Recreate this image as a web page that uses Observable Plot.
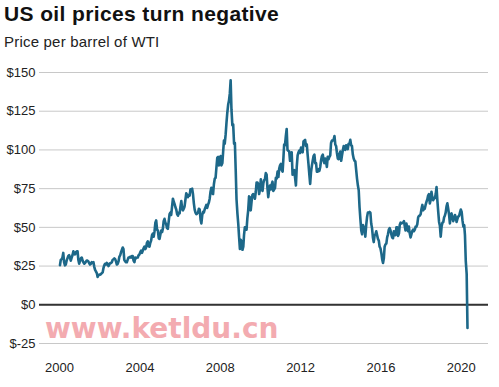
<!DOCTYPE html>
<html>
<head>
<meta charset="utf-8">
<script src="https://cdn.jsdelivr.net/npm/d3@7"></script>
<script src="https://cdn.jsdelivr.net/npm/@observablehq/plot@0.6"></script>
<style>
  html, body { margin: 0; padding: 0; background: #fff; }
  #wrap { position: relative; width: 499px; height: 387px; overflow: hidden; font-family: "Liberation Sans", Arial, sans-serif; }
  #title { position: absolute; left: 4px; top: 2px; font-size: 21px; letter-spacing: 0.38px; font-weight: bold; color: #111; white-space: nowrap; }
  #subtitle { position: absolute; left: 4px; top: 33px; font-size: 15px; letter-spacing: 0.2px; color: #222; white-space: nowrap; }
  #chart { position: absolute; left: 0; top: 0; }
  #wm { position: absolute; left: 45px; top: 312px; font-size: 28px; font-weight: bold; color: #f2a2a8; opacity: 0.9; white-space: nowrap; font-family: "DejaVu Sans", sans-serif; }
</style>
</head>
<body>
<div id="wrap">
  <div id="chart"></div>
  <div id="title">US oil prices turn negative</div>
  <div id="subtitle">Price per barrel of WTI</div>
  <div id="wm">www.ketldu.cn</div>
</div>
<script>
// WTI price per barrel, two readings per month (first half, second half)
const startYear = 2000;
const prices = [
  // 2000
  25.5, 29.0, 29.5, 30.5, 33.5, 27.5, 25.5, 26.0, 28.5, 30.0, 31.5, 32.0,
  30.5, 28.5, 30.5, 32.0, 34.5, 33.0, 32.5, 34.0, 34.5, 34.5, 29.0, 26.5,
  // 2001
  28.5, 30.0, 30.5, 28.5, 27.5, 26.5, 27.0, 27.8, 28.5, 28.5, 28.0, 26.8,
  26.0, 26.5, 27.5, 27.0, 27.5, 24.5, 22.5, 21.5, 20.5, 18.0, 19.0, 19.5,
  // 2002
  19.5, 19.8, 20.5, 21.0, 23.5, 25.5, 26.5, 26.0, 27.0, 26.5, 25.0, 26.0,
  26.8, 27.0, 27.5, 29.0, 29.5, 30.0, 29.5, 28.0, 26.0, 26.5, 28.0, 31.0,
  // 2003
  32.0, 34.0, 35.5, 37.0, 36.0, 29.0, 28.0, 27.5, 27.5, 29.0, 30.5, 30.5,
  31.0, 30.5, 31.5, 31.5, 28.5, 27.5, 30.5, 30.0, 30.5, 30.5, 32.0, 32.5,
  // 2004
  34.0, 35.0, 33.5, 35.0, 36.5, 37.5, 36.0, 37.0, 40.0, 41.0, 38.0, 37.5,
  40.0, 41.5, 45.0, 46.0, 44.0, 47.5, 53.0, 54.5, 48.5, 48.0, 43.0, 42.5,
  // 2005
  45.5, 48.0, 47.0, 49.5, 54.0, 55.5, 53.0, 52.0, 49.5, 49.0, 54.0, 58.5,
  59.5, 58.0, 63.5, 68.5, 66.5, 65.0, 63.0, 61.5, 58.5, 57.5, 59.5, 59.0,
  // 2006
  63.5, 67.0, 62.0, 61.0, 62.0, 63.5, 68.0, 72.0, 71.0, 69.5, 71.0, 70.5,
  74.5, 74.5, 75.0, 71.5, 65.5, 61.5, 59.5, 58.5, 59.0, 59.5, 62.0, 61.5,
  // 2007
  55.0, 52.5, 58.0, 60.0, 59.5, 61.5, 63.0, 64.5, 62.5, 64.5, 66.0, 68.5,
  73.0, 75.5, 72.0, 71.5, 78.0, 81.5, 82.0, 88.5, 95.0, 95.5, 90.0, 93.5,
  // 2008
  96.0, 90.0, 91.5, 99.0, 106.0, 104.0, 110.0, 117.5, 124.0, 129.0, 132.0, 136.5,
  145.0, 126.0, 116.0, 116.5, 104.0, 104.5, 87.0, 68.0, 59.0, 52.5, 44.0, 36.0,
  // 2009
  42.0, 41.0, 35.5, 37.5, 45.0, 50.0, 50.0, 48.5, 56.0, 61.0, 70.0, 69.5,
  61.0, 66.5, 71.0, 71.5, 70.0, 68.5, 73.0, 79.0, 79.0, 77.5, 71.5, 74.5,
  // 2010
  81.0, 76.0, 73.5, 78.5, 80.5, 81.0, 85.0, 84.0, 75.5, 69.5, 74.5, 77.0,
  74.5, 77.5, 79.5, 73.5, 74.5, 75.5, 82.0, 81.5, 86.0, 82.5, 88.0, 90.0,
  // 2011
  91.0, 87.0, 86.0, 95.0, 103.5, 103.0, 109.0, 113.5, 100.0, 99.5, 99.0, 93.0,
  96.5, 98.5, 84.0, 86.5, 87.0, 82.0, 77.0, 89.0, 96.5, 98.5, 99.5, 98.0,
  // 2012
  101.5, 99.0, 98.5, 105.5, 106.0, 106.5, 102.5, 103.5, 97.0, 91.0, 84.0, 78.0,
  85.5, 89.5, 93.0, 96.0, 97.0, 91.5, 91.5, 86.0, 86.0, 87.5, 86.5, 89.0,
  // 2013
  93.5, 96.0, 97.0, 93.0, 91.5, 94.5, 92.5, 89.0, 95.5, 94.0, 95.5, 96.5,
  104.5, 106.0, 106.0, 106.5, 109.0, 103.5, 102.5, 98.0, 94.5, 94.0, 97.5, 99.0,
  // 2014
  93.0, 96.5, 100.0, 102.5, 101.0, 100.0, 103.0, 101.5, 100.5, 104.0, 104.0, 106.5,
  103.0, 102.5, 97.0, 94.5, 93.0, 92.5, 87.0, 81.5, 77.0, 74.0, 63.0, 55.5,
  // 2015
  48.0, 45.5, 51.5, 50.0, 49.0, 44.0, 51.5, 56.5, 59.5, 59.5, 60.0, 59.5,
  52.5, 49.5, 43.5, 40.5, 45.0, 45.5, 47.5, 45.0, 42.5, 41.5, 37.5, 36.5,
  // 2016
  33.5, 29.5, 27.0, 30.0, 37.5, 39.0, 39.5, 43.5, 45.5, 48.5, 49.5, 48.0,
  45.5, 43.5, 43.0, 47.5, 45.0, 45.0, 50.0, 50.0, 44.5, 46.0, 51.5, 53.0,
  // 2017
  52.5, 53.0, 53.0, 54.0, 51.0, 48.0, 52.5, 50.0, 47.5, 50.5, 46.0, 43.5,
  45.5, 47.5, 48.5, 47.5, 48.5, 50.5, 50.5, 52.0, 56.5, 57.5, 57.5, 58.5,
  // 2018
  62.0, 64.5, 61.0, 62.5, 62.0, 64.5, 66.5, 68.0, 70.5, 71.5, 65.5, 67.5,
  73.0, 69.5, 67.5, 68.5, 69.0, 71.5, 76.0, 67.5, 60.0, 53.5, 51.0, 44.0,
  // 2019
  50.5, 53.0, 53.5, 56.5, 57.5, 59.5, 63.5, 65.5, 62.0, 58.5, 52.5, 57.5,
  59.0, 56.5, 54.0, 55.5, 58.0, 56.5, 53.5, 55.5, 57.0, 57.5, 59.5, 61.5,
  // 2020
  60.0, 54.5, 50.5, 51.5, 45.0, 28.0, 20.0, -15.0
];

const yTicks = [-25, 0, 25, 50, 75, 100, 125, 150];
const xTickYears = [2000, 2004, 2008, 2012, 2016, 2020];

const data = prices.map((p, i) => ({
  date: new Date(startYear + Math.floor(i / 24), Math.floor((i % 24) / 2), (i % 2) ? 23 : 8),
  price: p
}));

const chart = Plot.plot({
  width: 499,
  height: 387,
  marginTop: 72,
  marginBottom: 44,
  marginLeft: 39,
  marginRight: 11,
  style: { fontFamily: "'Liberation Sans', Arial, sans-serif", fontSize: "13px", color: "#222", background: "transparent" },
  x: {
    type: "utc",
    domain: [new Date(1999, 0, 1), new Date(2021, 4, 10)],
    ticks: xTickYears.map(y => new Date(y, 0, 1)),
    tickFormat: d => String(d.getFullYear()),
    tickSize: 0,
    tickPadding: 19,
    label: null
  },
  y: {
    domain: [-25, 150],
    ticks: yTicks,
    tickFormat: d => "$" + d,
    tickSize: 0,
    tickPadding: 4,
    label: null
  },
  marks: [
    Plot.gridY(yTicks, { stroke: "#c8c8c8", strokeOpacity: 1, strokeWidth: 1 }),
    Plot.ruleY([0], { stroke: "#333", strokeWidth: 2 }),
    Plot.lineY(data, { x: "date", y: "price", stroke: "#1d6889", strokeWidth: 2.6, strokeLinejoin: "round" })
  ]
});
document.getElementById("chart").appendChild(chart);
</script>
</body>
</html>
